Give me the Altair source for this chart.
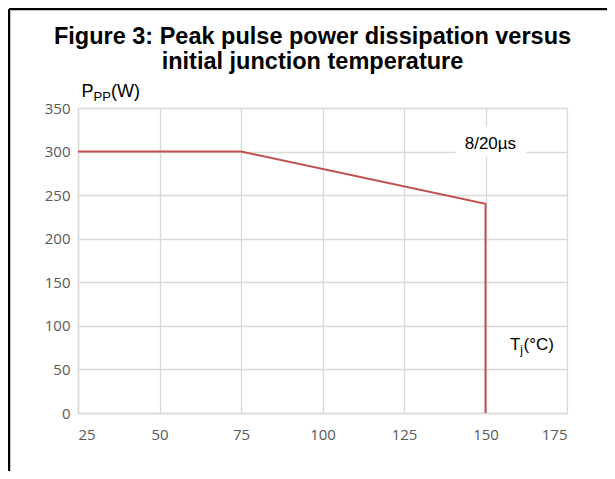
import altair as alt
import pandas as pd

# Curve data (8/20us derating)
temp_c = [25, 75, 150, 150]
ppp_w = [300, 300, 240, 0]

x_ticks = [25, 50, 75, 100, 125, 150, 175]
y_ticks = [0, 50, 100, 150, 200, 250, 300, 350]

title_lines = ["Figure 3: Peak pulse power dissipation versus", "initial junction temperature"]
curve_label = "8/20µs"

df = pd.DataFrame({"T": temp_c, "P": ppp_w, "order": list(range(len(temp_c)))})

GRID = "#d9d9d9"
RED = "#c0504d"
FONT = "Liberation Sans"

xs = alt.Scale(domain=[25, 175], nice=False, zero=False)
ys = alt.Scale(domain=[0, 350], nice=False)

line = alt.Chart(df).mark_line(color=RED, strokeWidth=2).encode(
    x=alt.X("T:Q", scale=xs,
            axis=alt.Axis(values=x_ticks, title=None, ticks=False, labelPadding=14,
                          labelColor="#595959", labelFontSize=15, labelFont="Open Sans",
                          domainColor=GRID, domainWidth=1.5, gridColor=GRID, gridWidth=1.3)),
    y=alt.Y("P:Q", scale=ys,
            axis=alt.Axis(values=y_ticks, title=None, ticks=False, labelPadding=8,
                          labelColor="#595959", labelFontSize=15, labelFont="Open Sans",
                          domainColor=GRID, domainWidth=1.5, gridColor=GRID, gridWidth=1.3)),
    order="order:Q",
)

# white box behind the curve label
box_df = pd.DataFrame({"x": [140.9], "x2": [162.4], "y": [294.0], "y2": [328.5]})
box = alt.Chart(box_df).mark_rect(color="white").encode(
    x=alt.X("x:Q", scale=xs), x2="x2:Q", y=alt.Y("y:Q", scale=ys), y2="y2:Q"
)

lab_df = pd.DataFrame({"x": [151.5], "y": [302.6], "t": [curve_label]})
lab = alt.Chart(lab_df).mark_text(font=FONT, fontSize=17, color="black", align="center",
                                   baseline="alphabetic").encode(
    x=alt.X("x:Q", scale=xs), y=alt.Y("y:Q", scale=ys), text="t:N"
)

def sub_label(x, y, main, sub, rest, size, sub_size, dx_sub, dx_rest):
    d = pd.DataFrame({"x": [x], "y": [y]})
    base = alt.Chart(d).encode(x=alt.X("x:Q", scale=xs), y=alt.Y("y:Q", scale=ys))
    m = base.mark_text(font=FONT, fontSize=size, color="black", align="left",
                       baseline="alphabetic", text=main)
    s = base.mark_text(font=FONT, fontSize=sub_size, color="black", align="left",
                       baseline="alphabetic", text=sub, dx=dx_sub, dy=4)
    r = base.mark_text(font=FONT, fontSize=size, color="black", align="left",
                       baseline="alphabetic", text=rest, dx=dx_rest)
    return m + s + r

tj = sub_label(157.5, 72.3, "T", "j", "(°C)", 17, 12, 10.4, 13.6)
ppp = sub_label(26.1, 363.0, "P", "PP", "(W)", 18, 13, 12.0, 29.5)

# chart title (two centred lines)
title_df = pd.DataFrame({"line": title_lines, "yy": [-63.7, -39.3]})
title = alt.Chart(title_df).mark_text(font=FONT, fontSize=23.5, fontWeight="bold", color="black",
                                      align="center", baseline="alphabetic").encode(
    x=alt.value(234.5), y=alt.Y("yy:Q", scale=None), text="line:N"
)

# figure frame (top and left edges visible)
frame_left = alt.Chart(pd.DataFrame({"a": [0]})).mark_rule(color="black", strokeWidth=2.5).encode(
    x=alt.value(-69), y=alt.value(-99), y2=alt.value(400)
)
frame_top = alt.Chart(pd.DataFrame({"a": [0]})).mark_rule(color="black", strokeWidth=2.5).encode(
    x=alt.value(-69), x2=alt.value(560), y=alt.value(-99)
)

chart = alt.layer(box, line, lab, tj, ppp, title, frame_left, frame_top).properties(
    width=489, height=305,
    autosize=alt.AutoSizeParams(type="none"),
    padding={"left": 70, "top": 100, "right": 40, "bottom": 58},
).configure_view(stroke=None).configure_axis(gridColor=GRID)

chart.save("out.html", embed_options={"renderer": "svg", "actions": False})
